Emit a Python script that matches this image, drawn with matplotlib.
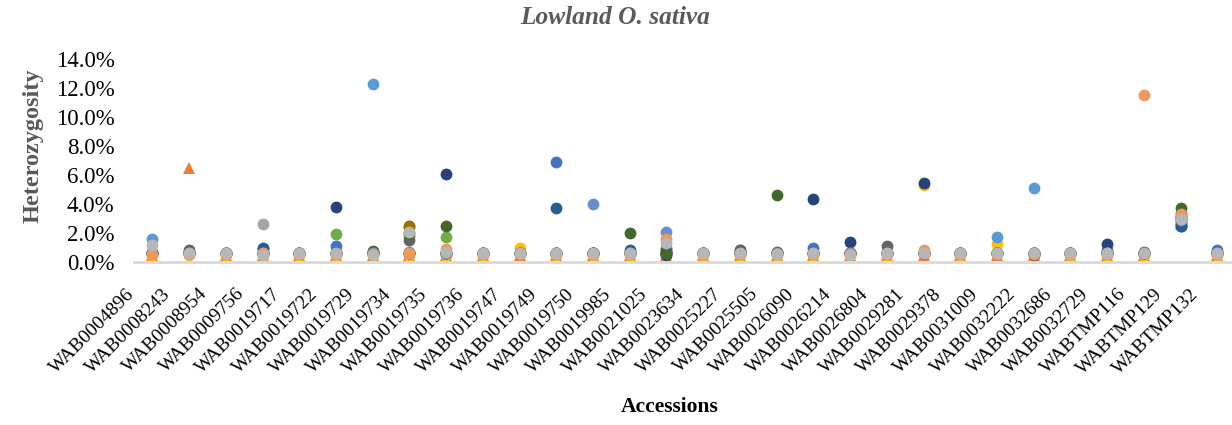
import matplotlib.pyplot as plt
import matplotlib.transforms as mtransforms
from matplotlib.ticker import FuncFormatter

# accesiones (eje x)
accessions = ["WAB0004896", "WAB0008243", "WAB0008954", "WAB0009756", "WAB0019717",
              "WAB0019722", "WAB0019729", "WAB0019734", "WAB0019735", "WAB0019736",
              "WAB0019747", "WAB0019749", "WAB0019750", "WAB0019985", "WAB0021025",
              "WAB0023634", "WAB0025227", "WAB0025505", "WAB0026090", "WAB0026214",
              "WAB0026804", "WAB0029281", "WAB0029378", "WAB0031009", "WAB0032222",
              "WAB0032686", "WAB0032729", "WABTMP116", "WABTMP129", "WABTMP132"]

# heterocigosidad (%) por serie
s01 = [0.6, 0.6, 0.6, 0.6, 0.6, 1.1, 0.6, 0.6, 0.6, 0.6, 0.6, 6.9, 0.6, 0.6, 0.9,
       0.6, 0.85, 0.6, 1.0, 0.6, 0.6, 0.6, 0.55, 0.6, 0.6, 0.6, 0.8, 0.6, 2.6, 0.8]
s02 = [0.5, 6.5, 0.5, 0.5, 0.5, 0.5, 0.5, 0.5, 0.5, 0.5, 0.5, 0.5, 0.5, 0.5, 0.5,
       0.5, 0.5, 0.5, 0.5, 0.5, 0.5, 0.5, 0.5, 0.5, 0.5, 0.5, 0.5, 0.5, 2.6, 0.5]
s03 = [0.6, 0.6, 0.6, 2.6, 0.6, 0.6, 0.6, 0.6, 0.6, 0.6, 0.6, 0.6, 0.6, 0.6, 0.6,
       0.6, 0.6, 0.6, 0.6, 0.6, 0.6, 0.6, 0.6, 0.6, 0.6, 0.6, 0.6, 0.6, 2.9, 0.6]
s04 = [0.5, 0.5, 0.5, 0.5, 0.5, 0.5, 0.5, 0.5, 0.5, 0.5, 1.0, 0.5, 0.5, 0.5, 0.5,
       0.5, 0.5, 0.5, 0.5, 0.5, 0.5, 5.3, 0.5, 1.25, 0.5, 0.5, 0.5, 0.5, 2.8, 0.5]
s05 = [1.6, 0.6, 0.6, 0.6, 0.6, 0.6, 12.3, 0.7, 0.6, 0.6, 0.6, 0.6, 0.6, 0.6, 0.6,
       0.6, 0.6, 0.6, 0.6, 0.6, 0.6, 0.6, 0.6, 1.7, 5.1, 0.6, 0.6, 0.6, 2.7, 0.6]
s06 = [0.6, 0.6, 0.6, 0.6, 0.65, 1.9, 0.6, 1.8, 1.7, 0.6, 0.6, 0.6, 0.6, 0.6, 1.0,
       0.6, 0.6, 0.6, 0.6, 0.6, 0.6, 0.6, 0.6, 0.6, 0.6, 0.6, 0.6, 0.6, 3.4, 0.6]
s07 = [0.6, 0.6, 0.6, 0.9, 0.6, 3.8, 0.6, 0.6, 6.1, 0.6, 0.6, 0.6, 0.6, 0.6, 0.5,
       0.6, 0.6, 0.6, 4.35, 1.4, 0.6, 5.45, 0.6, 0.6, 0.6, 0.6, 1.25, 0.6, 2.5, 0.6]
s08 = [0.6, 0.6, 0.6, 0.6, 0.6, 0.6, 0.6, 2.5, 0.6, 0.6, 0.6, 0.6, 0.6, 0.6, 0.6,
       0.6, 0.6, 0.7, 0.6, 0.6, 0.6, 0.6, 0.6, 0.6, 0.45, 0.6, 0.6, 0.6, 3.2, 0.6]
s09 = [0.6, 0.85, 0.6, 0.6, 0.6, 0.6, 0.6, 1.5, 0.6, 0.6, 0.6, 0.6, 0.6, 0.6, 0.6,
       0.6, 0.8, 0.6, 0.6, 0.6, 1.1, 0.6, 0.6, 0.6, 0.6, 0.6, 0.6, 0.7, 3.0, 0.6]
s10 = [0.6, 0.6, 0.6, 0.6, 0.6, 0.6, 0.6, 2.4, 0.6, 0.6, 0.6, 0.6, 0.6, 0.6, 0.6,
       0.6, 0.6, 0.6, 0.6, 0.6, 0.6, 0.6, 0.6, 0.6, 0.6, 0.6, 0.6, 0.6, 3.1, 0.6]
s11 = [0.6, 0.6, 0.6, 0.95, 0.6, 0.6, 0.6, 0.6, 0.6, 0.6, 0.6, 3.7, 0.6, 0.85, 0.75,
       0.6, 0.6, 0.6, 0.6, 0.6, 0.6, 0.6, 0.6, 0.6, 0.6, 0.6, 0.6, 0.6, 2.45, 0.6]
s12 = [0.6, 0.6, 0.6, 0.6, 0.6, 0.6, 0.75, 2.0, 2.45, 0.6, 0.6, 0.6, 0.6, 2.0, 0.6,
       0.6, 0.6, 4.6, 0.6, 0.6, 0.6, 0.6, 0.6, 0.6, 0.6, 0.6, 0.6, 0.6, 3.7, 0.6]
s13 = [0.6, 0.6, 0.6, 0.6, 0.6, 0.6, 0.6, 0.6, 0.6, 0.6, 0.6, 0.6, 4.0, 0.6, 2.1,
       0.6, 0.6, 0.6, 0.6, 0.6, 0.6, 0.6, 0.6, 0.6, 0.6, 0.6, 0.6, 0.6, 2.9, 0.6]
s14 = [0.55, 0.55, 0.55, 0.6, 0.55, 0.55, 0.55, 0.65, 0.9, 0.55, 0.55, 0.55, 0.55, 0.55, 1.6,
       0.55, 0.55, 0.55, 0.55, 0.55, 0.55, 0.8, 0.55, 0.55, 0.55, 0.55, 0.55, 11.5, 3.3, 0.55]
s15 = [1.2, 0.6, 0.6, 0.45, 0.6, 0.6, 0.5, 2.1, 0.7, 0.6, 0.6, 0.6, 0.6, 0.6, 1.3,
       0.6, 0.6, 0.55, 0.6, 0.5, 0.6, 0.6, 0.6, 0.6, 0.65, 0.6, 0.6, 0.6, 3.0, 0.6]

series = [s01, s02, s03, s04, s05, s06, s07, s08, s09, s10, s11, s12, s13, s14, s15]
colors = ["#4472C4", "#ED7D31", "#A5A5A5", "#FFC000", "#5B9BD5", "#70AD47", "#264478",
          "#9E480E", "#636363", "#997300", "#255E91", "#43682B", "#698ED0", "#F1975A",
          "#B7B7B7"]
markers = ["o", "^"] + ["o"] * 13

plt.rcParams['font.family'] = ['Liberation Serif', 'DejaVu Serif']

fig = plt.figure(figsize=(12.32, 4.25), dpi=100)
ax = fig.add_axes([134 / 1232, 1 - 262 / 425, 1 - 134 / 1232, 203 / 425])

x = list(range(len(accessions)))
for vals, c, m in zip(series, colors, markers):
    ax.plot(x, vals, linestyle='none', marker=m, color=c, markersize=8.5,
            markeredgewidth=0)

ax.set_xlim(-0.5, len(accessions) - 0.5 - 0.1)
ax.set_ylim(0, 14)
ax.set_yticks([0, 2, 4, 6, 8, 10, 12, 14])
ax.yaxis.set_major_formatter(FuncFormatter(lambda v, p: f"{v:.1f}%"))
ax.tick_params(axis='y', length=0, labelsize=16.5, pad=14)
ax.set_xticks(x)
ax.set_xticklabels(accessions, rotation=45, ha='right', rotation_mode='anchor',
                   fontsize=14)
ax.tick_params(axis='x', length=0, pad=6)
offset = mtransforms.ScaledTranslation(-0.27, -0.15, fig.dpi_scale_trans)
for lbl in ax.get_xticklabels():
    lbl.set_transform(lbl.get_transform() + offset)

for side in ['top', 'right', 'left']:
    ax.spines[side].set_visible(False)
ax.spines['bottom'].set_color('#D9D9D9')
ax.spines['bottom'].set_linewidth(2)

fig.text(615 / 1232, 1 - 17 / 425, "Lowland O. sativa", ha='center', va='center',
         fontsize=18.3, fontweight='bold', style='italic', color='#595959')
fig.text(33 / 1232, 1 - 146 / 425, "Heterozygosity", ha='center', va='center',
         rotation=90, fontsize=17.5, fontweight='bold', color='#595959')
fig.text(670 / 1232, 1 - 407 / 425, "Accessions", ha='center', va='center',
         fontsize=15.5, fontweight='bold', color='black')

fig.savefig("out.png", dpi=100)
